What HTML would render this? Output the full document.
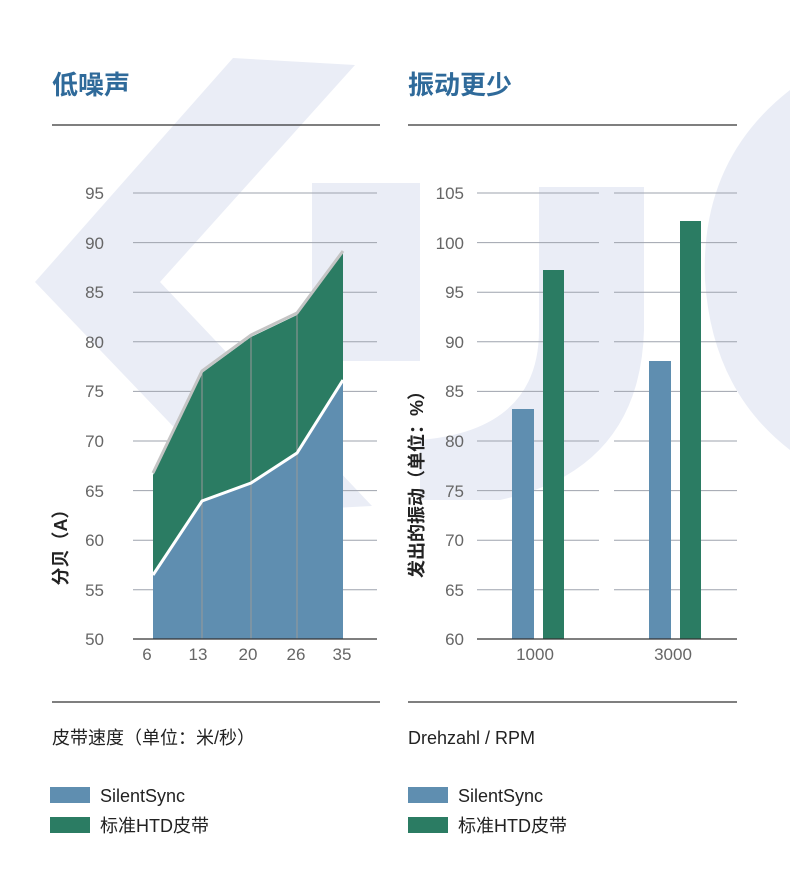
<!DOCTYPE html>
<html><head><meta charset="utf-8"><style>
body{margin:0;background:#fff}
svg text{font-family:"Liberation Sans","Noto Sans CJK SC",sans-serif}
</style></head><body>
<svg width="790" height="891" viewBox="0 0 790 891" xmlns="http://www.w3.org/2000/svg">
<g fill="#eaedf6">
<polygon points="35,282 233,58 355,65 160,282 372,506 255,512"/>
<rect x="312" y="183" width="108" height="178"/>
<path d="M539,187 L644,187 L644,330 Q640,470 500,500 L420,500 L420,440 Q539,430 539,330 Z"/>
<path d="M790,90 Q700,160 705,280 Q712,390 790,450 Z"/>
</g>
<g font-size="26" font-weight="bold" fill="#2f6a9a">
<text x="52" y="94">低噪声</text><text x="408" y="94">振动更少</text>
</g>
<g stroke="#333" stroke-width="1.3">
<line x1="52" y1="125" x2="380" y2="125"/><line x1="408" y1="125" x2="737" y2="125"/>
<line x1="52" y1="702" x2="380" y2="702"/><line x1="408" y1="702" x2="737" y2="702"/>
</g>
<g stroke="#9ea3ad" stroke-width="1">
<line x1="133" x2="377" y1="193" y2="193"/><line x1="133" x2="377" y1="242.6" y2="242.6"/>
<line x1="133" x2="377" y1="292.2" y2="292.2"/><line x1="133" x2="377" y1="341.8" y2="341.8"/>
<line x1="133" x2="377" y1="391.4" y2="391.4"/><line x1="133" x2="377" y1="441" y2="441"/>
<line x1="133" x2="377" y1="490.6" y2="490.6"/><line x1="133" x2="377" y1="540.2" y2="540.2"/>
<line x1="133" x2="377" y1="589.8" y2="589.8"/>
</g>
<polygon points="153,475 202,373 251,337 297,315 343,253 343,380 297,453 251,483 202,501 153,575" fill="#2b7c63"/>
<polygon points="153,575 202,501 251,483 297,453 343,380 343,639 153,639" fill="#5f8eb0"/>
<g stroke="#999" stroke-width="1"><line x1="202" y1="373" x2="202" y2="639"/><line x1="251" y1="337" x2="251" y2="639"/><line x1="297" y1="315" x2="297" y2="639"/></g>
<polyline points="153,473 202,371 251,335 297,313 343,251" fill="none" stroke="#c4c4c4" stroke-width="3"/>
<polyline points="153,575 202,501 251,483 297,453 343,380" fill="none" stroke="#fff" stroke-width="3"/>
<line x1="133" x2="377" y1="639" y2="639" stroke="#333" stroke-width="1.3"/>
<g font-size="17" fill="#666" text-anchor="end">
<text x="104" y="199">95</text><text x="104" y="249">90</text><text x="104" y="298">85</text><text x="104" y="348">80</text><text x="104" y="397">75</text><text x="104" y="447">70</text><text x="104" y="497">65</text><text x="104" y="546">60</text><text x="104" y="596">55</text><text x="104" y="645">50</text>
</g>
<g font-size="17" fill="#666" text-anchor="middle">
<text x="147" y="660">6</text><text x="198" y="660">13</text><text x="248" y="660">20</text><text x="296" y="660">26</text><text x="342" y="660">35</text>
</g>
<text transform="translate(67,543) rotate(-90)" font-size="18" font-weight="bold" fill="#222" text-anchor="middle">分贝（A）</text>
<g stroke="#9ea3ad" stroke-width="1">
<path d="M477,193H599M614,193H737M477,242.6H599M614,242.6H737M477,292.2H599M614,292.2H737M477,341.8H599M614,341.8H737M477,391.4H599M614,391.4H737M477,441H599M614,441H737M477,490.6H599M614,490.6H737M477,540.2H599M614,540.2H737M477,589.8H599M614,589.8H737"/>
</g>
<rect x="512" y="409" width="22" height="230" fill="#5f8eb0"/>
<rect x="543" y="270" width="21" height="369" fill="#2b7c63"/>
<rect x="649" y="361" width="22" height="278" fill="#5f8eb0"/>
<rect x="680" y="221" width="21" height="418" fill="#2b7c63"/>
<line x1="477" x2="737" y1="639" y2="639" stroke="#333" stroke-width="1.3"/>
<g font-size="17" fill="#666" text-anchor="end">
<text x="464" y="199">105</text><text x="464" y="249">100</text><text x="464" y="298">95</text><text x="464" y="348">90</text><text x="464" y="397">85</text><text x="464" y="447">80</text><text x="464" y="497">75</text><text x="464" y="546">70</text><text x="464" y="596">65</text><text x="464" y="645">60</text>
</g>
<g font-size="17" fill="#666" text-anchor="middle"><text x="535" y="660">1000</text><text x="673" y="660">3000</text></g>
<text transform="translate(423,480) rotate(-90)" font-size="18" font-weight="bold" fill="#222" text-anchor="middle">发出的振动（单位：%）</text>
<g font-size="18" fill="#222">
<text x="52" y="744">皮带速度（单位：米/秒）</text>
<text x="408" y="744">Drehzahl / RPM</text>
<rect x="50" y="787" width="40" height="16" fill="#5f8eb0"/><text x="100" y="802">SilentSync</text>
<rect x="50" y="817" width="40" height="16" fill="#2b7c63"/><text x="100" y="832">标准HTD皮带</text>
<rect x="408" y="787" width="40" height="16" fill="#5f8eb0"/><text x="458" y="802">SilentSync</text>
<rect x="408" y="817" width="40" height="16" fill="#2b7c63"/><text x="458" y="832">标准HTD皮带</text>
</g>
</svg>
</body></html>
